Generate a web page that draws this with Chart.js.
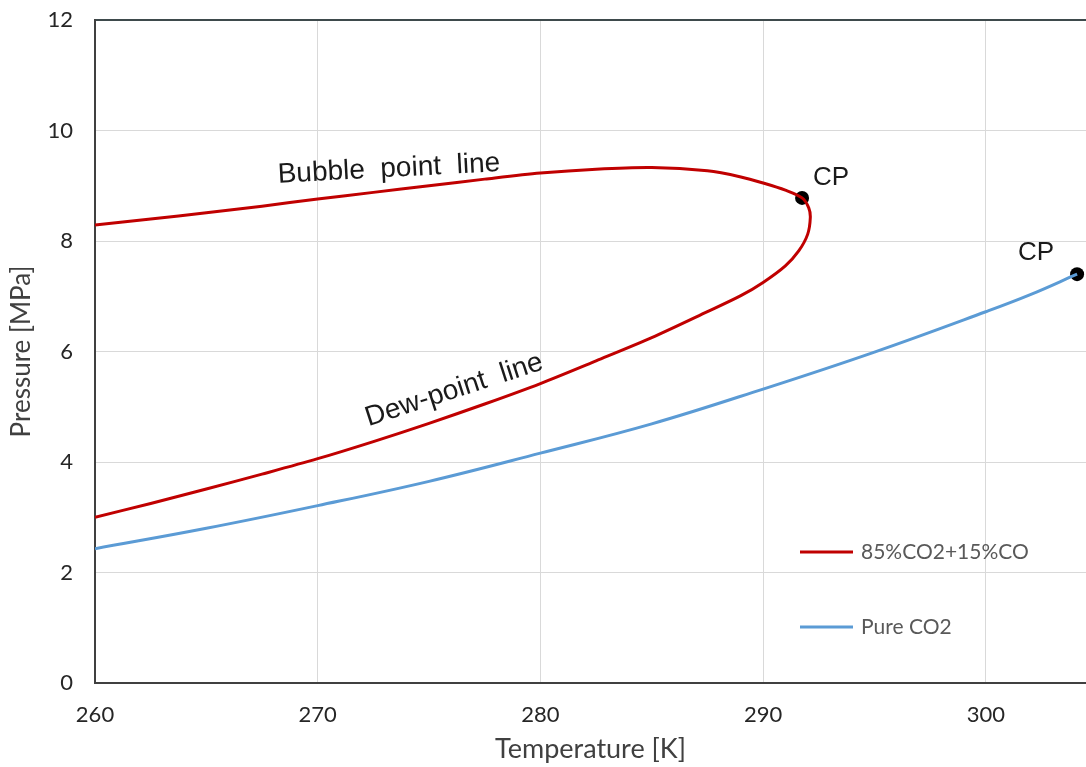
<!DOCTYPE html>
<html>
<head>
<meta charset="utf-8">
<script src="https://cdn.jsdelivr.net/npm/chart.js@4.4.1/dist/chart.umd.min.js"></script>
<style>
  html, body { margin: 0; padding: 0; background: #ffffff; }
  canvas { display: block; }
</style>
</head>
<body>
<canvas id="pt" width="1086" height="767"></canvas>
<script>
// Phase envelope of the 85% CO2 + 15% CO mixture (bubble branch, then dew branch)
const mixTemp  = [260, 262.5, 265, 267.5, 270, 272.5, 275, 277.5, 280, 282.5, 285, 287.5, 289, 290, 291, 291.75,
                  292.05, 292.12, 292.0, 291.6, 291, 290, 289, 287.5, 285, 282.5, 280, 277.5, 275, 272.5, 270, 267.5, 265, 262.5, 260];
const mixPress = [8.29, 8.40, 8.51, 8.63, 8.76, 8.88, 9.00, 9.12, 9.23, 9.30, 9.33, 9.27, 9.16, 9.05, 8.92, 8.78,
                  8.60, 8.42, 8.12, 7.82, 7.55, 7.25, 7.01, 6.72, 6.25, 5.83, 5.42, 5.05, 4.70, 4.37, 4.06, 3.78, 3.51, 3.25, 3.00];

// Vapour pressure curve of pure CO2
const pureTemp  = [260, 265, 270, 275, 280, 285, 290, 295, 300, 302, 304.1];
const purePress = [2.43, 2.80, 3.21, 3.65, 4.16, 4.69, 5.32, 5.99, 6.72, 7.03, 7.40];

// Critical points
const cpTemp  = [291.75, 304.1];
const cpPress = [8.78, 7.40];

const seriesNames = ['85%CO2+15%CO', 'Pure CO2'];
const xTicks = [260, 270, 280, 290, 300];
const yTicks = [0, 2, 4, 6, 8, 10, 12];

const toPoints = (xs, ys) => xs.map((x, i) => ({ x: x, y: ys[i] }));

const RED = '#C00000';
const BLUE = '#5B9BD5';
const TICK_FONT = { family: 'Lato, "Open Sans", sans-serif', size: 22 };

// Text labels placed in data coordinates
const curveLabels = [
  { text: 'Bubble  point  line', x: 273.2, y: 9.30, angle: -3, size: 28 },
  { text: 'Dew-point  line', x: 276.13, y: 5.30, angle: -18, size: 28 },
  { text: 'CP', x: 291.75, y: 8.78, dx: 11, dy: -20, size: 26, align: 'left' },
  { text: 'CP', x: 304.1, y: 7.40, dx: -59, dy: -21, size: 26, align: 'left' }
];

const labelPlugin = {
  id: 'curveLabels',
  afterDatasetsDraw(chart) {
    const { ctx, scales } = chart;
    ctx.save();
    ctx.fillStyle = '#1a1a1a';
    curveLabels.forEach(l => {
      const px = scales.x.getPixelForValue(l.x) + (l.dx || 0);
      const py = scales.y.getPixelForValue(l.y) + (l.dy || 0);
      ctx.save();
      ctx.translate(px, py);
      ctx.rotate((l.angle || 0) * Math.PI / 180);
      ctx.font = l.size + 'px "Liberation Sans", Arial, sans-serif';
      ctx.textAlign = l.align || 'center';
      ctx.textBaseline = 'middle';
      ctx.fillText(l.text, 0, 0);
      ctx.restore();
    });
    ctx.restore();
  }
};

const legendPlugin = {
  id: 'insideLegend',
  afterDraw(chart) {
    const { ctx } = chart;
    const rows = [
      { ds: chart.data.datasets[0], y: 552 },
      { ds: chart.data.datasets[1], y: 627 }
    ];
    ctx.save();
    ctx.font = '21px Lato, "Open Sans", sans-serif';
    ctx.textBaseline = 'middle';
    ctx.textAlign = 'left';
    rows.forEach(r => {
      ctx.strokeStyle = r.ds.borderColor;
      ctx.lineWidth = 3;
      ctx.beginPath();
      ctx.moveTo(800, r.y);
      ctx.lineTo(853, r.y);
      ctx.stroke();
      ctx.fillStyle = '#595959';
      ctx.fillText(r.ds.label, 861, r.y);
    });
    ctx.restore();
  }
};

new Chart(document.getElementById('pt'), {
  type: 'scatter',
  data: {
    datasets: [
      {
        label: seriesNames[0],
        data: toPoints(mixTemp, mixPress),
        showLine: true,
        borderColor: RED,
        backgroundColor: RED,
        borderWidth: 3,
        pointRadius: 0,
        tension: 0.3
      },
      {
        label: seriesNames[1],
        data: toPoints(pureTemp, purePress),
        showLine: true,
        borderColor: BLUE,
        backgroundColor: BLUE,
        borderWidth: 3,
        pointRadius: 0,
        tension: 0.4
      },
      {
        label: 'CP',
        data: toPoints(cpTemp, cpPress),
        showLine: false,
        pointRadius: 7,
        pointBackgroundColor: '#000000',
        pointBorderColor: '#000000',
        borderWidth: 0,
        clip: false
      }
    ]
  },
  options: {
    responsive: false,
    animation: false,
    devicePixelRatio: 1,
    layout: { autoPadding: false, padding: { top: 20, right: 0, bottom: 0, left: 0 } },
    plugins: { legend: { display: false }, tooltip: { enabled: false } },
    scales: {
      x: {
        type: 'linear',
        min: 260,
        max: 304.5,
        afterBuildTicks: s => { s.ticks = xTicks.map(v => ({ value: v })); },
        afterFit: s => { s.height = 84; s.paddingRight = 0; s.paddingLeft = 0; },
        grid: { color: '#d9d9d9', lineWidth: 1, drawTicks: false },
        border: { color: '#404040', width: 2 },
        ticks: { padding: 19, font: TICK_FONT, color: '#262626' },
        title: {
          display: true,
          text: 'Temperature [K]',
          color: '#404040',
          font: { family: 'Lato, "Open Sans", sans-serif', size: 27 },
          padding: { top: 0, bottom: 2 }
        }
      },
      y: {
        type: 'linear',
        min: 0,
        max: 12,
        afterBuildTicks: s => { s.ticks = yTicks.map(v => ({ value: v })); },
        afterFit: s => { s.width = 95; s.paddingTop = 0; s.paddingBottom = 0; },
        grid: {
          color: c => (c.tick && c.tick.value === 12 ? '#3e4a4c' : '#d9d9d9'),
          lineWidth: c => (c.tick && c.tick.value === 12 ? 2 : 1),
          drawTicks: false
        },
        border: { color: '#404040', width: 2 },
        ticks: { padding: 22, font: TICK_FONT, color: '#262626' },
        title: {
          display: true,
          text: 'Pressure [MPa]',
          color: '#404040',
          font: { family: 'Lato, "Open Sans", sans-serif', size: 26 },
          padding: { top: 6, bottom: 0 }
        }
      }
    }
  },
  plugins: [labelPlugin, legendPlugin]
});
</script>
</body>
</html>
